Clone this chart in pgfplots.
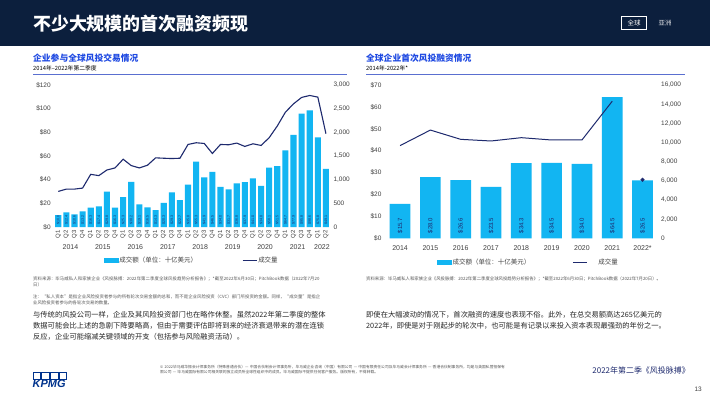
\documentclass[border=0pt]{standalone}
\usepackage{pgfplots}
\pgfplotsset{compat=1.18}
\usepackage{pgfplotstable}
\usepackage{fontspec}
\setmainfont{Liberation Sans}
\newfontfamily\cjk{Noto Sans CJK SC}
\XeTeXlinebreaklocale "zh"
\XeTeXlinebreakskip=0pt plus 0.5pt
\definecolor{knavy}{HTML}{0C1F3D}
\definecolor{kcyan}{HTML}{12B5F2}
\definecolor{kline}{HTML}{1E2A6E}
\definecolor{ktitle}{HTML}{1E49E2}
\definecolor{krule}{HTML}{5A6FD0}
\definecolor{ktick}{HTML}{404040}
\definecolor{kfoot}{HTML}{555555}
\definecolor{klogo}{HTML}{00338D}

\pgfplotstableread{
x amt cnt
0 10.0 752
1 12.4 801
2 10.6 801
3 13.2 822
4 16.3 1113
5 17.4 1085
6 29.8 1205
7 16.3 1248
8 25.3 1432
9 38.2 1297
10 19.1 1248
11 16.5 1305
12 14.3 1461
13 20.3 1453
14 29.3 1446
15 22.7 1453
16 35.8 1744
17 55.3 1780
18 41.9 1765
19 46.5 1553
20 34.0 1744
21 31.7 1737
22 36.8 1773
23 37.9 1702
24 41.0 1758
25 34.8 1723
26 50.1 1886
27 51.5 2134
28 64.7 2425
29 77.9 2602
30 95.8 2737
31 98.6 2779
32 75.8 2744
33 49.1 1971
}\leftdata

\pgfplotstableread{
x amt cnt
0 15.7 9677
1 28.0 11300
2 26.6 10333
3 23.5 10160
4 34.3 10506
5 34.5 10264
6 34.0 10264
7 64.5 14308
8 26.5 nan
}\rightdata

\pgfplotsset{
  kbase/.style={
    scale only axis, clip=false,
    axis line style={draw=none},
    major tick length=0pt, tick style={draw=none},
    scaled y ticks=false,
    yticklabel style={font=\fontsize{6.5}{7}\selectfont, text=ktick},
    xticklabel style={font=\fontsize{6.5}{7}\selectfont, text=ktick},
    /pgf/number format/assume math mode=true,
    /pgf/number format/1000 sep={,},
  },
  kleft/.style={kbase, at={(54.2bp,172bp)}, anchor=south west,
    width=275.8bp, height=142bp, xmin=-0.5, xmax=33.5},
  kright/.style={kbase, at={(384.9bp,160.6bp)}, anchor=south west,
    width=272.8bp, height=153.4bp, xmin=-0.5, xmax=8.5},
}

\begin{document}
\begin{tikzpicture}[x=1bp,y=1bp]
\useasboundingbox (0,0) rectangle (710,399);
\fill[white] (0,0) rectangle (710,399);
\fill[knavy] (0,353) rectangle (710,399);
\node[anchor=west, inner sep=0, text=white, font=\cjk\bfseries\fontsize{18}{20}\selectfont] at (33,375) {不少大规模的首次融资频现};
\node[draw=white, line width=0.6bp, text=white, inner sep=0, minimum width=25bp, minimum height=13bp, font=\cjk\fontsize{6.5}{7}\selectfont] at (634,376) {全球};
\node[text=white!85!knavy, inner sep=0, font=\cjk\fontsize{6.5}{7}\selectfont] at (665,376) {亚洲};

% chart titles
\node[anchor=base west, inner sep=0, text=ktitle, font=\cjk\bfseries\fontsize{8.8}{10}\selectfont] at (33,338) {企业参与全球风投交易情况};
\node[anchor=base west, inner sep=0, text=black, font=\cjk\fontsize{5.8}{7}\selectfont] at (33,329) {2014年–2022年第二季度};
\draw[krule, line width=0.6bp] (33,324.5) -- (347,324.5);
\node[anchor=base west, inner sep=0, text=ktitle, font=\cjk\bfseries\fontsize{8.8}{10}\selectfont] at (366,338) {全球企业首次风投融资情况};
\node[anchor=base west, inner sep=0, text=black, font=\cjk\fontsize{5.8}{7}\selectfont] at (366,329) {2014年-2022年*};
\draw[krule, line width=0.6bp] (366,324.5) -- (685,324.5);

% ---------- left chart ----------
\begin{axis}[kleft, ymin=0, ymax=120, ytick={0,20,...,120},
  yticklabel={\$\pgfmathprintnumber{\tick}},
  axis y line*=left, axis x line*=bottom,
  xtick={0,...,33},
  xticklabels={Q1,Q2,Q3,Q4,Q1,Q2,Q3,Q4,Q1,Q2,Q3,Q4,Q1,Q2,Q3,Q4,Q1,Q2,Q3,Q4,Q1,Q2,Q3,Q4,Q1,Q2,Q3,Q4,Q1,Q2,Q3,Q4,Q1,Q2},
  xticklabel style={rotate=90, anchor=east, font=\fontsize{6}{6}\selectfont}]
\addplot[ybar, bar width=6.1bp, bar shift=0pt, fill=kcyan, draw=none] table[x=x,y=amt]{\leftdata};
\addplot[draw=none, point meta=\thisrow{amt},
  nodes near coords={\$\pgfmathprintnumber[fixed,fixed zerofill,precision=1]{\pgfplotspointmeta}},
  every node near coord/.append style={rotate=90, anchor=west, inner xsep=2.5bp, inner ysep=0pt, text=kline, font=\fontsize{3.6}{4}\selectfont}]
  table[x=x, y expr=0]{\leftdata};
\end{axis}
\begin{axis}[kleft, ymin=0, ymax=3000, ytick={0,500,...,3000},
  axis y line*=right, axis x line*=bottom,
  xtick={1.5,5.5,9.5,13.5,17.5,21.5,25.5,29.5,32.5},
  xticklabels={2014,2015,2016,2017,2018,2019,2020,2021,2022},
  xticklabel style={font=\fontsize{7}{8}\selectfont, yshift=-14bp},
  legend columns=2,
  legend style={at={(axis description cs:0.18,-0.237)}, anchor=west, draw=none, fill=none, inner sep=0pt,
    font=\cjk\fontsize{6.5}{7}\selectfont, text=ktick, /tikz/every even column/.append style={column sep=44bp},
    nodes={inner sep=1bp}}]
\addlegendimage{legend image code/.code={\fill[kcyan] (0bp,-2bp) rectangle (14bp,2bp);}}
\addlegendentry{成交额（单位：十亿美元）}
\addplot[kline, line width=1.1bp, mark=none,
  legend image code/.code={\draw[kline,line width=1.1bp] (0bp,0bp) -- (14bp,0bp);}] table[x=x,y=cnt]{\leftdata};
\addlegendentry{成交量}
\end{axis}

% ---------- right chart ----------
\begin{axis}[kright, ymin=0, ymax=70, ytick={0,10,...,70},
  yticklabel={\$\pgfmathprintnumber{\tick}},
  axis y line*=left, axis x line*=bottom,
  xtick={0,...,8},
  xticklabels={2014,2015,2016,2017,2018,2019,2020,2021,2022*},
  xticklabel style={font=\fontsize{7}{8}\selectfont, yshift=-4bp}]
\addplot[ybar, bar width=20.7bp, bar shift=0pt, fill=kcyan, draw=none] table[x=x,y=amt]{\rightdata};
\addplot[draw=none, point meta=\thisrow{amt},
  nodes near coords={\$\pgfmathprintnumber[fixed,fixed zerofill,precision=1]{\pgfplotspointmeta}},
  every node near coord/.append style={rotate=90, anchor=west, inner xsep=5bp, inner ysep=0pt, text=kline, font=\fontsize{6}{7}\selectfont}]
  table[x=x, y expr=0]{\rightdata};
\end{axis}
\begin{axis}[kright, ymin=0, ymax=16000, ytick={0,2000,...,16000},
  axis y line*=right, axis x line*=bottom, xtick=\empty,
  legend columns=2,
  legend style={at={(axis description cs:0.191,-0.154)}, anchor=west, draw=none, fill=none, inner sep=0pt,
    font=\cjk\fontsize{6.5}{7}\selectfont, text=ktick, /tikz/every even column/.append style={column sep=41bp},
    nodes={inner sep=1bp}}]
\addlegendimage{legend image code/.code={\fill[kcyan] (0bp,-2bp) rectangle (14bp,2bp);}}
\addlegendentry{成交额（单位：十亿美元）}
\addplot[kline, line width=1bp, mark=none,
  legend image code/.code={\draw[kline,line width=1bp] (0bp,0bp) -- (14bp,0bp);}] table[x=x,y=cnt]{\rightdata};
\addlegendentry{\hspace{10bp}成交量}
\addplot[only marks, mark=*, mark size=1.8bp, kline, forget plot] coordinates {(8,6117)};
\end{axis}

% footnotes
\node[anchor=north west, inner sep=0, text width=288bp, align=left, text=kfoot, font=\cjk\fontsize{4.4}{5.4}\selectfont] at (33,122)
 {资料来源：毕马威私人和家族企业《风投脉搏：2022年第二季度全球风投趋势分析报告》；*截至2022年6月30日；PitchBook数据（2022年7月20日）};
\node[anchor=north west, inner sep=0, text width=288bp, align=left, text=kfoot, font=\cjk\fontsize{4.4}{5.4}\selectfont] at (33,104)
 {注：“私人资本”是指企业风险投资者参与的所有轮次交易金额的总和，而不是企业风险投资（CVC）部门所投资的金额。同样，“成交量”是指企业风险投资者参与的各轮次交易的数量。};
\node[anchor=north west, inner sep=0, text width=300bp, align=left, text=kfoot, font=\cjk\fontsize{4.4}{5.4}\selectfont] at (366,122)
 {资料来源：毕马威私人和家族企业《风投脉搏：2022年第二季度全球风投趋势分析报告》；*截至2022年6月30日；PitchBook数据（2022年7月20日）。};

% body text
\node[anchor=north west, inner sep=0, align=left, text=black!85, font=\cjk\fontsize{7.3}{11.3}\selectfont] at (33,88)
 {与传统的风投公司一样，企业及其风险投资部门也在略作休整。虽然2022年第二季度的整体\\
  数据可能会比上述的急剧下降要略高，但由于需要评估即将到来的经济衰退带来的潜在连锁\\
  反应，企业可能缩减关键领域的开支（包括参与风险融资活动）。};
\node[anchor=north west, inner sep=0, align=left, text=black!85, font=\cjk\fontsize{7.3}{11.3}\selectfont] at (366,88)
 {即使在大幅波动的情况下，首次融资的速度也表现不俗。此外，在总交易额高达265亿美元的\\
  2022年，即使是对于刚起步的轮次中，也可能是有记录以来投入资本表现最强劲的年份之一。};

% footer
\foreach \i in {0,1,2,3} {\draw[klogo, line width=0.5bp] (33+\i*8.6,20) rectangle (33+\i*8.6+7.6,26.5);}
\node[anchor=north west, inner sep=0, text=klogo, font=\bfseries\itshape\fontsize{11}{12}\selectfont] at (32.5,19) {KPMG};
\node[anchor=north west, inner sep=0, text width=345bp, align=left, text=kfoot, font=\cjk\fontsize{3.8}{5.2}\selectfont] at (160,34)
 {© 2022毕马威华振会计师事务所（特殊普通合伙）— 中国合伙制会计师事务所，毕马威企业咨询（中国）有限公司 — 中国有限责任公司及毕马威会计师事务所 — 香港合伙制事务所，均是与英国私营担保有限公司 — 毕马威国际有限公司相关联的独立成员所全球性组织中的成员。毕马威国际不提供任何客户服务。版权所有，不得转载。};
\node[anchor=east, inner sep=0, text=kline, font=\cjk\fontsize{8}{9}\selectfont] at (690,29) {2022年第二季《风投脉搏》};
\node[anchor=east, inner sep=0, text=ktick, font=\fontsize{6.5}{7}\selectfont] at (702,10) {13};
\end{tikzpicture}
\end{document}
